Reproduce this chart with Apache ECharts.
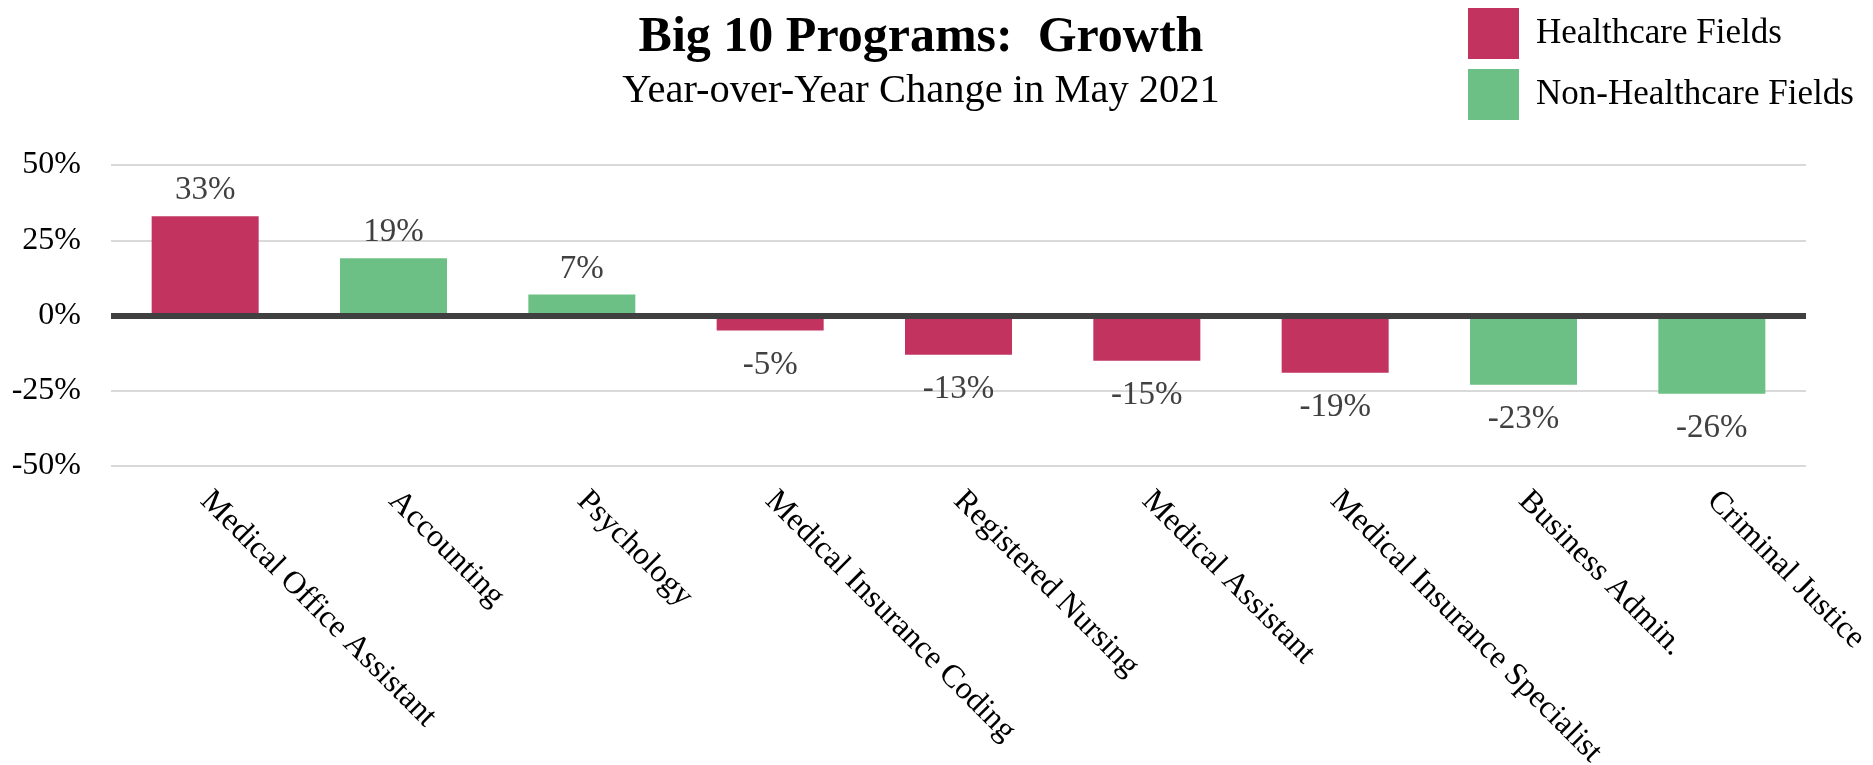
<!DOCTYPE html>
<html>
<head>
<meta charset="utf-8">
<script src="https://cdn.jsdelivr.net/npm/echarts@6/dist/echarts.min.js"></script>
<style>
html,body{margin:0;padding:0;background:#fff;}
#chart{width:1873px;height:765px;}
</style>
</head>
<body>
<div id="chart"></div>
<script>
// ---- data ----
const categories = ['Medical Office Assistant','Accounting','Psychology','Medical Insurance Coding','Registered Nursing','Medical Assistant','Medical Insurance Specialist','Business Admin.','Criminal Justice'];
const growthValues = [33, 19, 7, -5, -13, -15, -19, -23, -26];
const isHealthcare = [true, false, false, true, true, true, true, false, false];
const seriesNames = ['Healthcare Fields', 'Non-Healthcare Fields'];
const yTicks = [-50, -25, 0, 25, 50];

const FONT = '"Liberation Serif", "DejaVu Serif", serif';
const colors = ['#C2345F', '#6CC085'];

function buildData(wantHealth) {
  return growthValues.map((v, i) => {
    if (isHealthcare[i] !== wantHealth) return '-';
    return {
      value: v,
      label: { position: v >= 0 ? 'top' : 'bottom', distance: v >= 0 ? 9 : 18 }
    };
  });
}

const labelCommon = {
  show: true,
  formatter: p => p.value + '%',
  color: '#404040',
  fontFamily: FONT,
  fontSize: 33
};

const chart = echarts.init(document.getElementById('chart'));
chart.setOption({
  animation: false,
  backgroundColor: '#fff',
  title: {
    text: 'Big 10 Programs:  Growth',
    subtext: 'Year-over-Year Change in May 2021',
    left: 921,
    textAlign: 'center',
    top: 12,
    padding: 0,
    itemGap: 6,
    textStyle: { fontFamily: FONT, fontWeight: 'bold', fontSize: 50, color: '#000', lineHeight: 52 },
    subtextStyle: { fontFamily: FONT, fontSize: 40.5, color: '#000', lineHeight: 42 }
  },
  legend: {
    orient: 'vertical',
    left: 1468,
    top: 8,
    padding: 0,
    itemWidth: 51,
    itemHeight: 51,
    itemGap: 10,
    icon: 'rect',
    selectedMode: false,
    data: seriesNames,
    textStyle: { fontFamily: FONT, fontSize: 35, color: '#000', padding: [0, 0, 0, 12] }
  },
  grid: { left: 111, right: 67, top: 165, bottom: 765 - 466, containLabel: false, outerBoundsMode: 'none' },
  xAxis: {
    type: 'category',
    data: categories,
    axisLine: { show: false, onZero: false },
    axisTick: { show: false },
    axisLabel: {
      interval: 0,
      rotate: -45,
      margin: 30,
      fontFamily: FONT,
      fontSize: 32,
      color: '#000'
    }
  },
  yAxis: {
    type: 'value',
    min: yTicks[0],
    max: yTicks[yTicks.length - 1],
    interval: 25,
    axisLine: { show: false },
    axisTick: { show: false },
    splitLine: { lineStyle: { color: '#d9d9d9', width: 2 } },
    axisLabel: {
      margin: 30,
      formatter: v => v + '%',
      fontFamily: FONT,
      fontSize: 32,
      color: '#000'
    }
  },
  series: [
    {
      name: seriesNames[0],
      type: 'bar',
      barWidth: 107,
      barGap: '-100%',
      itemStyle: { color: colors[0] },
      label: labelCommon,
      data: buildData(true),
      markLine: {
        silent: true,
        symbol: 'none',
        label: { show: false },
        lineStyle: { color: '#404040', width: 6, type: 'solid' },
        data: [{ yAxis: 0 }]
      }
    },
    {
      name: seriesNames[1],
      type: 'bar',
      barWidth: 107,
      barGap: '-100%',
      itemStyle: { color: colors[1] },
      label: labelCommon,
      data: buildData(false)
    }
  ]
});
</script>
</body>
</html>
